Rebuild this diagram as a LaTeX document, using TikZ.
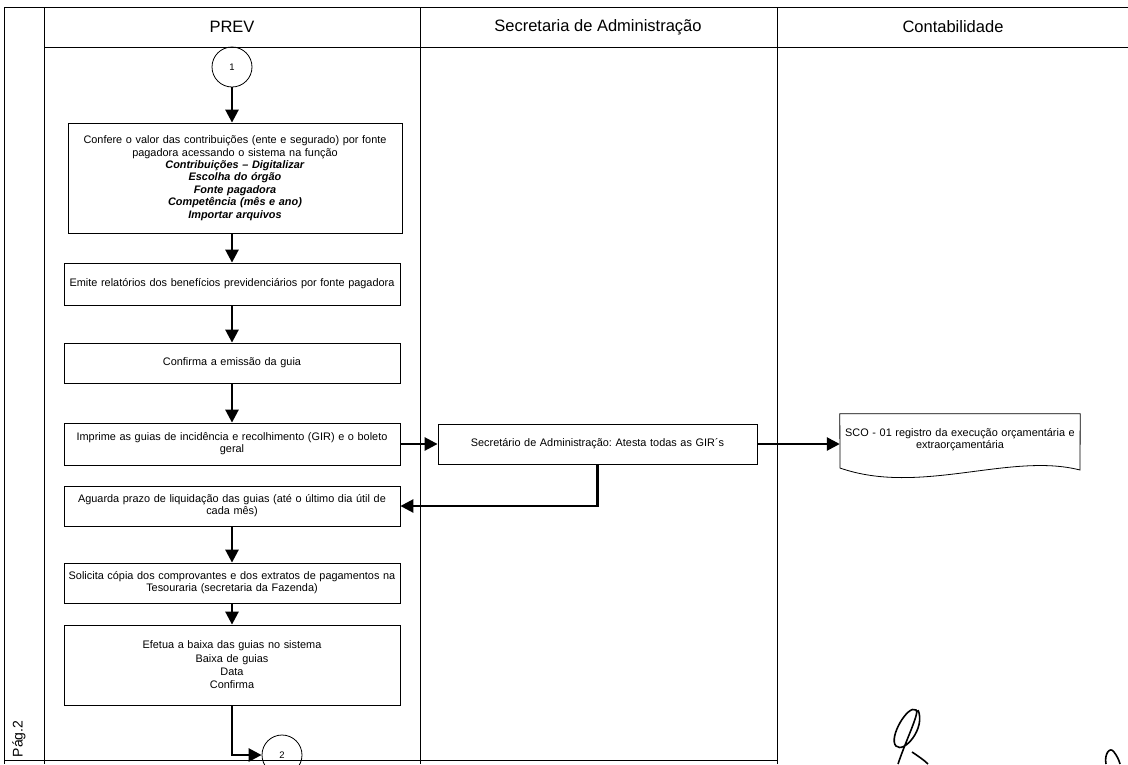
\documentclass[tikz,border=0pt]{standalone}
\usepackage{fontspec}
\setmainfont{Liberation Sans}
\usetikzlibrary{arrows.meta}
\frenchspacing

\begin{document}
\begin{tikzpicture}[x=1pt,y=-1pt]
\tikzstyle{every node}+=[inner sep=0pt]
\tikzstyle{taskbox}=[draw=black, line width=0.8pt, align=center, text width=336pt, font=\fontsize{10.9}{12.2}\selectfont]
\tikzstyle{offpage}=[draw=black, line width=0.8pt, circle, minimum size=40pt, font=\fontsize{9.5}{11}\selectfont]
\tikzstyle{lanetitle}=[font=\fontsize{16.5}{20}\selectfont]
\tikzstyle{flow}=[black, line width=2.6pt, -{Triangle[length=13pt,width=13pt]}]
\useasboundingbox (0,0) rectangle (1128,764);
% lanes
\draw [black, line width=0.8pt] (4,7) -- (1128,7);
\draw [black, line width=0.8pt] (44,47) -- (1128,47);
\draw [black, line width=0.8pt] (4,7) -- (4,764);
\draw [black, line width=0.8pt] (44,7) -- (44,764);
\draw [black, line width=0.8pt] (420,7) -- (420,764);
\draw [black, line width=0.8pt] (777,7) -- (777,764);
\draw [black, line width=0.8pt] (4,760) -- (777,760);
\node [lanetitle] (prev) at (232,27) {PREV};
\node [lanetitle] (secadm) at (598,27) {Secretaria de Administração};
\node [lanetitle] (contab) at (953,27) {Contabilidade};
\node [rotate=90, font=\fontsize{14}{16}\selectfont] (pag) at (19,739) {Pág.2};
% PREV
\node [offpage] (c1) at (232,67) {1};
\node [taskbox, text width=334pt, minimum height=110pt, font=\fontsize{10.9}{12.4}\selectfont] (b1) at (235,178) {Confere o valor das contribuições (ente e segurado) por fonte\\pagadora acessando o sistema na função\\\textbf{\textit{Contribuições – Digitalizar}}\\\textbf{\textit{Escolha do órgão}}\\\textbf{\textit{Fonte pagadora}}\\\textbf{\textit{Competência (mês e ano)}}\\\textbf{\textit{Importar arquivos}}};
\node [taskbox, minimum height=42pt] (b2) at (232,284) {Emite relatórios dos benefícios previdenciários por fonte pagadora};
\node [taskbox, minimum height=40pt] (b3) at (232,363) {Confirma a emissão da guia};
\node [taskbox, minimum height=42pt] (b4) at (232,444) {Imprime as guias de incidência e recolhimento (GIR) e o boleto\\geral};
\node [taskbox, minimum height=40pt] (b5) at (232,506) {Aguarda prazo de liquidação das guias (até o último dia útil de\\cada mês)};
\node [taskbox, minimum height=40pt] (b6) at (232,583) {Solicita cópia dos comprovantes e dos extratos de pagamentos na\\Tesouraria (secretaria da Fazenda)};
\node [taskbox, minimum height=80pt, font=\fontsize{10.9}{13.3}\selectfont] (b7) at (232,665) {Efetua a baixa das guias no sistema\\Baixa de guias\\Data\\Confirma};
\node [offpage] (c2) at (282,755) {2};
% Secretaria de Administracao
\node [taskbox, text width=319pt, minimum height=40pt] (sa) at (597.5,444) {Secretário de Administração: Atesta todas as GIR´s};
% Contabilidade
\node [align=center, text width=240pt, minimum height=52pt, font=\fontsize{10.9}{12.2}\selectfont] (sco) at (960,440) {SCO - 01 registro da execução orçamentária e\\extraorçamentária};
\draw [black, line width=0.8pt] (sco.north west) -- (sco.north east) -- (1080,470) .. controls (1010,452) and (920,496) .. (840,468) -- cycle;
% flow
\draw [flow] (c1) -- (c1 |- b1.north);
\draw [flow] (b1.south -| c1) -- (b2);
\draw [flow] (b2) -- (b3);
\draw [flow] (b3) -- (b4);
\draw [flow] (b4.east) -- (sa.west);
\draw [flow] (sa.east) -- (sa.east -| sco.west);
\draw [flow] (sa.south) |- (b5.east);
\draw [flow] (b5) -- (b6);
\draw [flow] (b6) -- (b7);
\draw [flow] (b7.south) |- (c2.west);
% signatures
\draw [black, line width=1.6pt] (898,764) .. controls (906,740) and (920,712) .. (916,710) .. controls (908,704) and (888,738) .. (896,746) .. controls (904,754) and (926,728) .. (918,710);
\draw [black, line width=1.6pt] (912,752) .. controls (918,756) and (924,760) .. (928,764);
\draw [black, line width=1.6pt] (1106,764) .. controls (1104,754) and (1110,746) .. (1114,752) .. controls (1117,756) and (1119,760) .. (1120,764);
\end{tikzpicture}
\end{document}
